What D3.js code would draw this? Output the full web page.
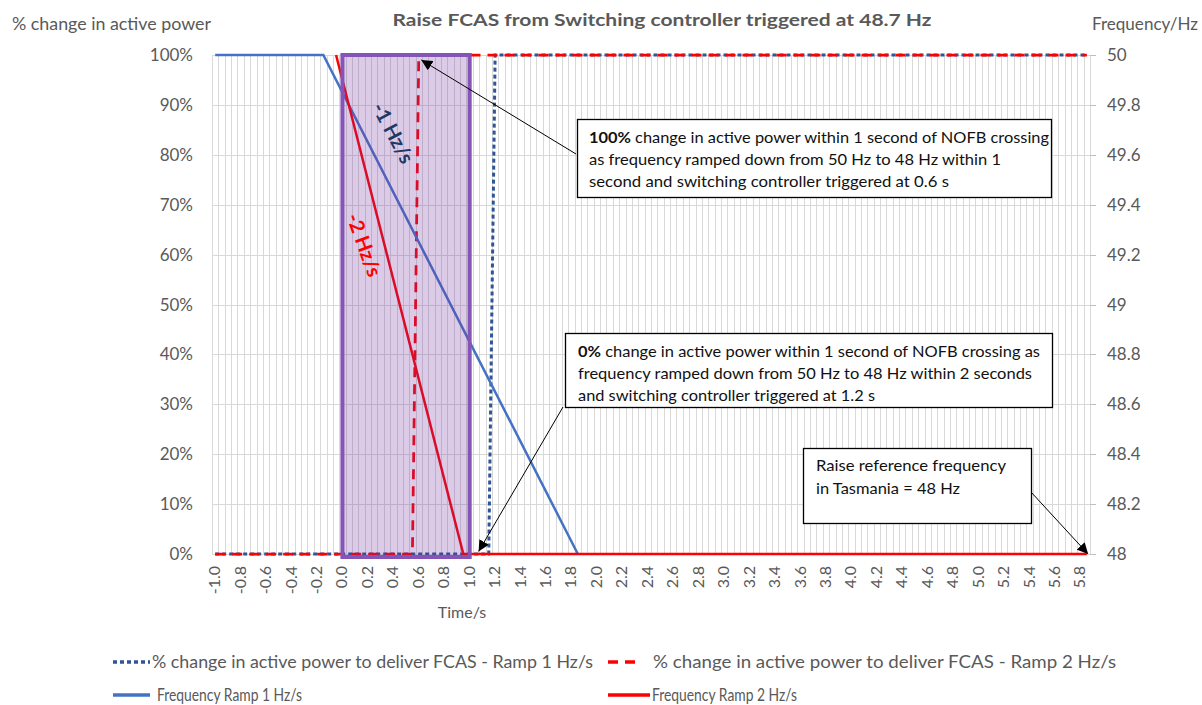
<!DOCTYPE html>
<html>
<head>
<meta charset="utf-8">
<script src="https://cdn.jsdelivr.net/npm/d3@7"></script>
<style>
  body { margin: 0; background: #fff; }
  svg { display: block; font-family: Lato, "Open Sans", sans-serif; }
</style>
</head>
<body>
<svg id="chart" width="1202" height="705"></svg>
<script>
// category axis: one category every 0.05 s from -1.0 to 5.85
const categoryStep = 0.05;
const firstCategory = -1.0;
const lastCategory = 5.85;
const xTickLabels = d3.range(0, 35).map(i => (-1 + i * 0.2).toFixed(1));

// % change in active power (left axis)
const pctTime1 = [-1.0, 1.15, 1.2, 5.85];
const pctRamp1 = [0, 0, 100, 100];
const pctTime2 = [-1.0, 0.55, 0.6, 5.85];
const pctRamp2 = [0, 0, 100, 100];

// frequency (right axis)
const freqTime1 = [-1.0, -0.15, 1.85];
const freqRamp1 = [50, 50, 48];
const freqTime2 = [-0.05, 0.9, 0.95, 5.85];
const freqRamp2 = [50, 48.1, 48, 48];

const leftTicks = d3.range(0, 101, 10);
const rightTicks = [48, 48.2, 48.4, 48.6, 48.8, 49, 49.2, 49.4, 49.6, 49.8, 50];

const legendLabels = [
  '% change in active power to deliver FCAS - Ramp 1 Hz/s',
  '% change in active power to deliver FCAS - Ramp 2 Hz/s',
  'Frequency Ramp 1 Hz/s',
  'Frequency Ramp 2 Hz/s',
];

const textGrey = '#595959';
const gridGrey = '#d9d9d9';

const svg = d3.select('#chart');

const x = d3.scaleLinear()
    .domain([firstCategory - categoryStep / 2, lastCategory + categoryStep / 2])
    .range([212, 1090]);
const yPct = d3.scaleLinear().domain([0, 100]).range([554, 55]);
const yFreq = d3.scaleLinear().domain([48, 50]).range([554, 55]);

// gridlines between categories
const nCat = Math.round((lastCategory - firstCategory) / categoryStep) + 1;
const gridX = d3.range(0, nCat + 1).map(i => firstCategory - categoryStep / 2 + i * categoryStep);

svg.append('g')
    .attr('stroke', gridGrey)
    .attr('stroke-width', 1)
    .selectAll('line')
    .data(gridX)
    .join('line')
    .attr('x1', d => Math.round(x(d)) + 0.5)
    .attr('x2', d => Math.round(x(d)) + 0.5)
    .attr('y1', yPct(100))
    .attr('y2', yPct(0));

svg.append('g')
    .attr('stroke', gridGrey)
    .attr('stroke-width', 1)
    .selectAll('line')
    .data(leftTicks)
    .join('line')
    .attr('x1', x.range()[0])
    .attr('x2', x.range()[1])
    .attr('y1', d => Math.round(yPct(d)) + 0.5)
    .attr('y2', d => Math.round(yPct(d)) + 0.5);

// right axis ticks
svg.append('g')
    .attr('stroke', '#bfbfbf')
    .selectAll('line')
    .data(rightTicks)
    .join('line')
    .attr('x1', 1090)
    .attr('x2', 1096)
    .attr('y1', d => Math.round(yFreq(d)) + 0.5)
    .attr('y2', d => Math.round(yFreq(d)) + 0.5);

// axis labels
svg.append('g')
    .selectAll('text')
    .data(leftTicks)
    .join('text')
    .attr('x', 193)
    .attr('y', d => yPct(d) + 6)
    .attr('text-anchor', 'end')
    .attr('font-size', 17)
    .attr('fill', textGrey)
    .text(d => d + '%');

svg.append('g')
    .selectAll('text')
    .data(rightTicks)
    .join('text')
    .attr('x', 1107)
    .attr('y', d => yFreq(d) + 6)
    .attr('font-size', 17)
    .attr('fill', textGrey)
    .text(d => d3.format('~g')(d));

svg.append('g')
    .selectAll('text')
    .data(xTickLabels)
    .join('text')
    .attr('transform', d => `translate(${x(+d) + 5},566) rotate(-90)`)
    .attr('text-anchor', 'end')
    .attr('font-size', 16)
    .attr('fill', textGrey)
    .text(d => d);

svg.append('text')
    .attr('x', 462).attr('y', 618)
    .attr('text-anchor', 'middle')
    .attr('font-size', 16)
    .attr('fill', textGrey)
    .text('Time/s');

svg.append('text')
    .attr('x', 662).attr('y', 26)
    .attr('text-anchor', 'middle')
    .attr('font-size', 17)
    .attr('font-weight', 'bold')
    .attr('fill', textGrey)
    .attr('textLength', 539)
    .attr('lengthAdjust', 'spacingAndGlyphs')
    .text('Raise FCAS from Switching controller triggered at 48.7 Hz');

svg.append('text')
    .attr('x', 12).attr('y', 30)
    .attr('font-size', 17)
    .attr('fill', textGrey)
    .attr('textLength', 199)
    .attr('lengthAdjust', 'spacingAndGlyphs')
    .text('% change in active power');

svg.append('text')
    .attr('x', 1092).attr('y', 30)
    .attr('font-size', 17)
    .attr('fill', textGrey)
    .attr('textLength', 106)
    .attr('lengthAdjust', 'spacingAndGlyphs')
    .text('Frequency/Hz');

// series
const series = [
  { t: pctTime1, v: pctRamp1, y: yPct, color: '#2f5597', width: 3, dash: '4,3' },
  { t: pctTime2, v: pctRamp2, y: yPct, color: '#ff0000', width: 2.75, dash: '10,7' },
  { t: freqTime1, v: freqRamp1, y: yFreq, color: '#4472c4', width: 2.5, dash: null },
  { t: freqTime2, v: freqRamp2, y: yFreq, color: '#ff0000', width: 2.5, dash: null },
];

series.forEach(s => {
  const line = d3.line()
      .x((d, i) => x(s.t[i]))
      .y(d => s.y(d));
  svg.append('path')
      .attr('d', line(s.v))
      .attr('fill', 'none')
      .attr('stroke', s.color)
      .attr('stroke-width', s.width)
      .attr('stroke-dasharray', s.dash);
});

// highlighted first second
svg.append('rect')
    .attr('x', x(0))
    .attr('y', yPct(100))
    .attr('width', x(1) - x(0))
    .attr('height', yPct(0) - yPct(100) + 3)
    .attr('fill', '#7030a0')
    .attr('fill-opacity', 0.25)
    .attr('stroke', '#8454b6')
    .attr('stroke-width', 4);

// slope labels
svg.append('text')
    .attr('transform', 'translate(393,133) rotate(62)')
    .attr('text-anchor', 'middle')
    .attr('dy', '0.35em')
    .attr('font-size', 20)
    .attr('font-weight', 'bold')
    .attr('fill', '#1f3864')
    .text('-1 Hz/s');

svg.append('text')
    .attr('transform', 'translate(364,245) rotate(70)')
    .attr('text-anchor', 'middle')
    .attr('dy', '0.35em')
    .attr('font-size', 20)
    .attr('font-weight', 'bold')
    .attr('fill', '#ff0000')
    .text('-2 Hz/s');

// annotations
svg.append('defs').append('marker')
    .attr('id', 'arrow')
    .attr('viewBox', '0 0 10 10')
    .attr('refX', 10).attr('refY', 5)
    .attr('markerWidth', 11).attr('markerHeight', 11)
    .attr('markerUnits', 'userSpaceOnUse')
    .attr('orient', 'auto')
    .append('path')
    .attr('d', 'M0,0L10,5L0,10Z')
    .attr('fill', '#000');

const arrows = [
  { from: [576, 154], to: [x(0.62), yPct(99)] },
  { from: [563, 407], to: [x(1.07), yPct(0.5)] },
  { from: [1031, 492], to: [x(5.86), yPct(0)] },
];

svg.append('g')
    .selectAll('line')
    .data(arrows)
    .join('line')
    .attr('x1', d => d.from[0]).attr('y1', d => d.from[1])
    .attr('x2', d => d.to[0]).attr('y2', d => d.to[1])
    .attr('stroke', '#000')
    .attr('stroke-width', 1)
    .attr('marker-end', 'url(#arrow)');

const boxes = [
  { x: 577, y: 119, w: 474, h: 78, left: 589, lines: [
    { bold: '100%', text: ' change in active power within 1 second of NOFB crossing', len: 460, base: 143 },
    { text: 'as frequency ramped down from 50 Hz to 48 Hz within 1', len: 412, base: 165 },
    { text: 'second and switching controller triggered at 0.6 s', len: 360, base: 187 },
  ] },
  { x: 565, y: 333, w: 487, h: 74, left: 578, lines: [
    { bold: '0%', text: ' change in active power within 1 second of NOFB crossing as', len: 462, base: 357 },
    { text: 'frequency ramped down from 50 Hz to 48 Hz within 2 seconds', len: 454, base: 379 },
    { text: 'and switching controller triggered at 1.2 s', len: 297, base: 401 },
  ] },
  { x: 803, y: 448, w: 228, h: 75, left: 816, lines: [
    { text: 'Raise reference frequency', len: 190, base: 471 },
    { text: 'in Tasmania = 48 Hz', len: 144, base: 494 },
  ] },
];

boxes.forEach(b => {
  svg.append('rect')
      .attr('x', b.x + 0.5).attr('y', b.y + 0.5)
      .attr('width', b.w).attr('height', b.h)
      .attr('fill', '#fff')
      .attr('stroke', '#000')
      .attr('stroke-width', 1.3);
  b.lines.forEach(l => {
    const t = svg.append('text')
        .attr('x', b.left).attr('y', l.base)
        .attr('font-size', 16)
        .attr('fill', '#111')
        .attr('textLength', l.len)
        .attr('lengthAdjust', 'spacingAndGlyphs');
    if (l.bold) t.append('tspan').attr('font-weight', 'bold').text(l.bold);
    t.append('tspan').text(l.text);
  });
});

// legend
const legendItems = [
  { label: legendLabels[0], sx: [113, 150], tx: 152, len: 441, y: 662, color: '#2f5597', dash: '4,3', w: 3.5 },
  { label: legendLabels[1], sx: [608, 640], tx: 653, len: 463, y: 662, color: '#ff0000', dash: '10,7', w: 3.5 },
  { label: legendLabels[2], sx: [113, 150], tx: 157, len: 145, y: 695, color: '#4472c4', dash: null, w: 3.5 },
  { label: legendLabels[3], sx: [608, 650], tx: 652, len: 145, y: 695, color: '#ff0000', dash: null, w: 3.5 },
];

const legend = svg.append('g');
legendItems.forEach(it => {
  legend.append('line')
      .attr('x1', it.sx[0]).attr('x2', it.sx[1])
      .attr('y1', it.y).attr('y2', it.y)
      .attr('stroke', it.color)
      .attr('stroke-width', it.w)
      .attr('stroke-dasharray', it.dash);
  legend.append('text')
      .attr('x', it.tx).attr('y', it.y + 6)
      .attr('font-size', 17)
      .attr('fill', textGrey)
      .attr('textLength', it.len)
      .attr('lengthAdjust', 'spacingAndGlyphs')
      .text(it.label);
});
</script>
</body>
</html>
